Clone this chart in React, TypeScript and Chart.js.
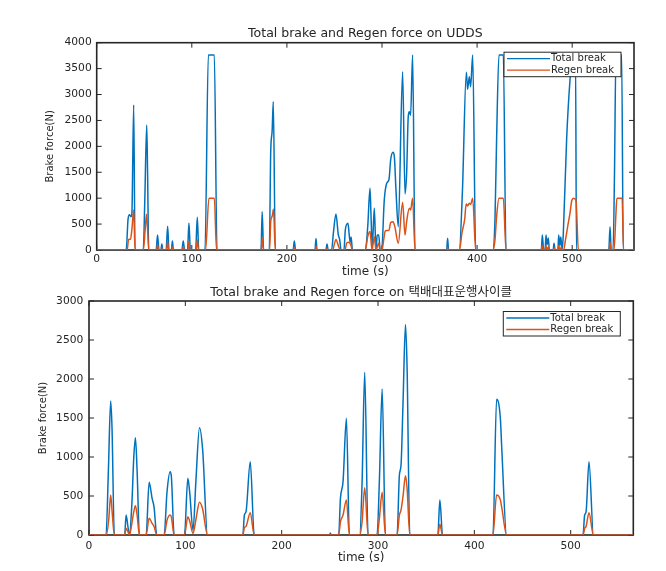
import React, { useEffect, useRef } from 'react';
import { Chart, registerables } from 'chart.js';

Chart.register(...registerables);

// ---------------- DATA ----------------
const xTicks = [0, 100, 200, 300, 400, 500];
const xMax = 565;
const uddsYTicks = [0, 500, 1000, 1500, 2000, 2500, 3000, 3500, 4000];
const deliveryYTicks = [0, 500, 1000, 1500, 2000, 2500, 3000];
const seriesLabels = ['Total break', 'Regen break'];
const uddsTitle = 'Total brake and Regen force on UDDS';
const deliveryTitle = 'Total brake and Regen force on 택배대표운행사이클';
const xTitle = 'time (s)';
const yTitle = 'Brake force(N)';

// [time (s), force (N)]
const uddsTotal: [number, number][] = [
  [0, 0], [31, 0], [33, 600], [34.5, 680], [36, 640], [37, 700], [38.9, 2800], [40.3, 0],
  [49, 0], [50.5, 900], [52.6, 2410], [53.5, 1500], [54.7, 0],
  [62.5, 0], [64, 290], [65.5, 0],
  [67.5, 0], [68.5, 115], [69.5, 0],
  [73, 0], [74.6, 460], [76, 0],
  [78.5, 0], [79.6, 175], [80.7, 0],
  [89.5, 0], [91, 175], [92.5, 0],
  [95.5, 0], [97, 520], [98.5, 0],
  [104, 0], [105.8, 630], [107.3, 0],
  [113.9, 0], [117.4, 3765], [123.7, 3765], [126.5, 0],
  [172.8, 0], [174, 740], [175.5, 0],
  [181.5, 0], [183, 1900], [184.5, 2300], [185.7, 2863], [187.8, 0],
  [206.5, 0], [207.8, 175], [209.2, 0],
  [229.5, 0], [230.6, 220], [231.7, 0],
  [241, 0], [242.2, 115], [243.4, 0],
  [247, 0], [249, 350], [251.6, 695], [254, 300], [255.5, 200], [257, 0],
  [260, 0], [261.5, 400], [264.2, 515], [265.5, 300], [266.5, 150], [267.5, 250], [269, 0],
  [282.5, 0], [285, 450], [287.4, 1190], [288.4, 690], [289.8, 60], [291.9, 805], [293.7, 0],
  [295, 290], [296.5, 290], [298.2, 0], [299.7, 0], [302.4, 965], [304.9, 1285], [307.4, 1365],
  [309.1, 1737], [311.6, 1885], [313, 1800], [314.7, 1160], [317.1, 450], [321.7, 3440],
  [324.2, 1080], [325.9, 1480], [327.6, 2575], [328.7, 2670], [330.1, 2600], [332.2, 3765], [334.7, 0],
  [368, 0], [369, 225], [370, 0],
  [381.3, 0], [384.5, 1095], [388.7, 3430], [390, 3100], [391.8, 3345], [393.2, 3150], [395.4, 3765], [398.5, 0],
  [416.4, 0], [418.8, 580], [420.5, 2120], [423, 3765], [427.6, 3765], [430.4, 0],
  [467.5, 0], [468.6, 290], [470, 0], [471.5, 0], [472.5, 290], [473.5, 100], [474.9, 230], [476, 0],
  [480, 0], [480.9, 130], [482, 0], [485, 0], [485.8, 290], [487, 80], [488, 250], [489.5, 0],
  [490.7, 330], [494.2, 2155], [497.7, 3280], [500, 3700], [502, 3765], [503.5, 3765], [504.5, 0],
  [538.5, 0], [539.8, 450], [541, 0], [543, 0], [544.5, 1500], [546, 3765], [552, 3765], [553.7, 0],
  [565, 0],
];

const uddsRegen: [number, number][] = [
  [0, 0], [32, 0], [33.5, 200], [35.5, 210], [37, 400], [38.9, 770], [40.3, 0],
  [49, 0], [51, 400], [52.4, 690], [53.5, 400], [54.7, 0],
  [63, 0], [64, 100], [65, 0],
  [68, 0], [68.5, 40], [69, 0],
  [73.5, 0], [74.6, 160], [75.7, 0],
  [79, 0], [79.6, 60], [80.3, 0],
  [90, 0], [91, 60], [92, 0],
  [96, 0], [97, 170], [98, 0],
  [104.5, 0], [105.8, 200], [107, 0],
  [114.5, 0], [118, 1000], [123.7, 1000], [126, 0],
  [173, 0], [174, 230], [175.3, 0],
  [181.8, 0], [183, 550], [184.5, 650], [185.9, 785], [187.8, 0],
  [207, 0], [207.8, 50], [208.8, 0],
  [230, 0], [230.6, 70], [231.4, 0],
  [241.5, 0], [242.2, 35], [243, 0],
  [248, 0], [251.6, 205], [254, 90], [256.5, 0],
  [261, 0], [263, 140], [265, 150], [267, 110], [269, 0],
  [282.5, 0], [285, 257], [287.4, 355], [289.5, 0], [291.9, 257], [293.7, 0], [296.5, 130], [298, 0],
  [300, 0], [302, 225], [303.5, 373], [307.4, 380], [309, 527], [311.6, 545], [313.5, 450],
  [317.1, 130], [321.7, 915], [324.2, 290], [325.9, 545], [328.7, 805], [330.1, 770], [332.2, 1000], [334.7, 0],
  [368.5, 0], [369, 50], [369.6, 0],
  [381.5, 0], [384, 320], [387, 600], [388.5, 890], [390, 850], [391.8, 900], [393.2, 880], [395.4, 1000], [398.5, 0],
  [416.8, 0], [418.8, 190], [420.5, 640], [423, 1000], [427.6, 1000], [430.4, 0],
  [467.5, 0], [468.6, 90], [469.6, 0], [471.5, 0], [472.5, 90], [473.5, 0], [474, 0], [474.9, 60], [476, 0],
  [480, 0], [480.9, 40], [482, 0], [485, 0], [485.8, 90], [487, 0], [487.5, 0], [488.5, 60], [489.5, 0],
  [491, 0], [493, 200], [495.5, 480], [497.7, 710], [499.5, 950], [501.5, 1000], [504, 960], [506.5, 0],
  [539, 0], [539.8, 150], [541, 0],
  [544, 0], [546, 700], [547, 1000], [552.5, 1000], [554, 0],
  [565, 0],
];

const deliveryTotal: [number, number][] = [
  [0, 0], [17.7, 0], [20.1, 812], [22.5, 1718], [23.9, 1368], [26.3, 0],
  [37, 0], [38.5, 256], [40.5, 100], [42, 0], [44.5, 400], [46.5, 1000], [48.2, 1248], [50, 800], [52.3, 0],
  [59.3, 0], [62.4, 675], [65.5, 470], [67.5, 360], [70.4, 0],
  [78, 0], [81, 555], [84.2, 812], [85.5, 750], [88.4, 0],
  [99.1, 0], [102.6, 726], [104.5, 550], [108, 60], [111, 700], [114.7, 1376], [118, 1090], [123, 0],
  [159.7, 0], [161.3, 256], [163, 300], [167.4, 940], [171.5, 0],
  [249.8, 0], [250.5, 25], [251.2, 0],
  [259.2, 0], [261, 470], [263.7, 684], [267.2, 1496], [270.3, 0],
  [281, 0], [283.4, 640], [286.2, 2085], [289.7, 0],
  [299, 0], [301.4, 684], [304.3, 1872], [307.7, 0],
  [319.8, 0], [322.2, 770], [323.9, 897], [326, 1710], [328.5, 2700], [330.2, 2137], [333, 0],
  [362.1, 0], [364.2, 449], [367, 0],
  [419.3, 0], [423.1, 1740], [427, 1496], [428.5, 1100], [433.5, 0],
  [512.8, 0], [514.5, 256], [516, 300], [519, 940], [523.6, 0],
  [565, 0],
];

const deliveryRegen: [number, number][] = [
  [0, 0], [18, 0], [20.5, 200], [22.5, 513], [24, 300], [26.3, 0],
  [37, 0], [38.5, 85], [40.5, 40], [42, 0], [44.5, 150], [46.5, 300], [48.2, 376], [50, 250], [52.3, 0],
  [59.3, 0], [62.4, 214], [65.5, 150], [67.5, 110], [70.4, 0],
  [78, 0], [81, 190], [84.2, 256], [85.5, 230], [88.4, 0],
  [99.1, 0], [102.6, 235], [104.5, 180], [108, 20], [111, 200], [114.7, 419], [118, 330], [123, 0],
  [159.7, 0], [161.3, 94], [163, 110], [167.4, 286], [171.5, 0],
  [259.2, 0], [261, 170], [263.7, 256], [267.2, 449], [270.3, 0],
  [281, 0], [283.4, 160], [286.2, 607], [289.7, 0],
  [299, 0], [301.4, 210], [304.3, 547], [307.7, 0],
  [319.8, 0], [322.2, 256], [323.9, 320], [326, 500], [328.5, 760], [330.2, 600], [333, 0],
  [362.1, 0], [364.2, 137], [367, 0],
  [419.3, 0], [423.1, 513], [427, 450], [428.5, 350], [433.5, 0],
  [512.8, 0], [514.5, 85], [516, 110], [519, 286], [523.6, 0],
  [565, 0],
];

// ---------------- STYLE ----------------
const BLUE = '#0072BD';
const ORANGE = '#D95319';
const AX = '#262626';
const SANS = '"DejaVu Sans", "Noto Sans CJK KR", sans-serif';

const framePlugin = {
  id: 'frame',
  beforeDatasetsDraw(chart: any) {
    const { ctx, chartArea: a, scales } = chart;
    const tl = 5;
    ctx.save();
    ctx.strokeStyle = AX;
    ctx.lineWidth = 1;
    ctx.beginPath();
    scales.x.ticks.forEach((t: any) => {
      const p = scales.x.getPixelForValue(t.value);
      ctx.moveTo(p, a.bottom); ctx.lineTo(p, a.bottom - tl);
      ctx.moveTo(p, a.top); ctx.lineTo(p, a.top + tl);
    });
    scales.y.ticks.forEach((t: any) => {
      const p = scales.y.getPixelForValue(t.value);
      ctx.moveTo(a.left, p); ctx.lineTo(a.left + tl, p);
      ctx.moveTo(a.right, p); ctx.lineTo(a.right - tl, p);
    });
    ctx.stroke();
    ctx.lineWidth = 1.6;
    ctx.strokeRect(a.left, a.top, a.right - a.left, a.bottom - a.top);
    ctx.restore();
  },
};

const legendBoxPlugin = {
  id: 'legendBox',
  afterDraw(chart: any, _args: any, opts: any) {
    const { ctx, chartArea: a } = chart;
    const w = 117;
    const h = 24.5;
    const x = a.right - opts.right - w;
    const y = a.top + opts.top;
    ctx.save();
    ctx.fillStyle = '#ffffff';
    ctx.fillRect(x, y, w, h);
    ctx.strokeStyle = AX;
    ctx.lineWidth = 1;
    ctx.strokeRect(x, y, w, h);
    ctx.font = `10px ${SANS}`;
    ctx.textBaseline = 'middle';
    ctx.textAlign = 'left';
    const items = [chart.data.datasets[1], chart.data.datasets[0]];
    items.forEach((ds: any, i: number) => {
      const cy = y + 6.5 + i * 11.5;
      ctx.strokeStyle = ds.borderColor;
      ctx.lineWidth = 1.3;
      ctx.beginPath();
      ctx.moveTo(x + 3, cy);
      ctx.lineTo(x + 46, cy);
      ctx.stroke();
      ctx.fillStyle = AX;
      ctx.fillText(ds.label, x + 47, cy);
    });
    ctx.restore();
  },
};

type PanelCfg = {
  total: [number, number][];
  regen: [number, number][];
  yTicks: number[];
  title: string;
  titlePad: { top: number; bottom: number };
  yAxisWidth: number;
  yTitlePad: number;
  yLabelPad: number;
  xAxisHeight: number;
  xLabelPad: number;
  xTitlePad: number;
  rightPad: number;
  legendTop: number;
};

const plain = (v: any) => String(v);

function buildConfig(p: PanelCfg): any {
  const common = {
    borderWidth: 1.5,
    pointRadius: 0,
    cubicInterpolationMode: 'monotone',
  };
  return {
    type: 'line',
    data: {
      datasets: [
        {
          ...common,
          label: seriesLabels[1],
          data: p.regen.map(([x, y]) => ({ x, y })),
          borderColor: ORANGE,
          order: 0,
        },
        {
          ...common,
          label: seriesLabels[0],
          data: p.total.map(([x, y]) => ({ x, y })),
          borderColor: BLUE,
          order: 1,
        },
      ],
    },
    options: {
      animation: false,
      responsive: false,
      devicePixelRatio: 1,
      layout: { padding: { left: 0, right: p.rightPad, top: 0, bottom: 0 } },
      plugins: {
        legend: { display: false },
        tooltip: { enabled: false },
        title: {
          display: true,
          text: p.title,
          fullSize: false,
          color: AX,
          font: { family: SANS, size: 12.5, weight: 'normal', lineHeight: 1.2 },
          padding: p.titlePad,
        },
        legendBox: { right: 13, top: p.legendTop },
      },
      scales: {
        x: {
          type: 'linear',
          min: 0,
          max: xMax,
          afterBuildTicks: (s: any) => { s.ticks = xTicks.map((v) => ({ value: v })); },
          afterFit: (s: any) => { s.height = p.xAxisHeight; },
          grid: { display: false, drawTicks: false },
          border: { display: false },
          ticks: {
            color: AX,
            font: { family: SANS, size: 10.7 },
            padding: p.xLabelPad,
            maxRotation: 0,
            autoSkip: false,
            callback: plain,
          },
          title: {
            display: true,
            text: xTitle,
            color: AX,
            font: { family: SANS, size: 12, lineHeight: 1.2 },
            padding: { top: 0, bottom: p.xTitlePad },
          },
        },
        y: {
          type: 'linear',
          min: 0,
          max: p.yTicks[p.yTicks.length - 1],
          afterBuildTicks: (s: any) => { s.ticks = p.yTicks.map((v) => ({ value: v })); },
          afterFit: (s: any) => { s.width = p.yAxisWidth; },
          grid: { display: false, drawTicks: false },
          border: { display: false },
          ticks: {
            color: AX,
            font: { family: SANS, size: 10.7 },
            padding: p.yLabelPad,
            callback: plain,
          },
          title: {
            display: true,
            text: yTitle,
            color: AX,
            font: { family: SANS, size: 10, lineHeight: 1.2 },
            padding: { top: p.yTitlePad, bottom: 0 },
          },
        },
      },
    },
    plugins: [framePlugin, legendBoxPlugin],
  };
}

const topPanel: PanelCfg = {
  total: uddsTotal,
  regen: uddsRegen,
  yTicks: uddsYTicks,
  title: uddsTitle,
  titlePad: { top: 26, bottom: 1.7 },
  yAxisWidth: 96.7,
  yTitlePad: 44.7,
  yLabelPad: 5,
  xAxisHeight: 35,
  xLabelPad: 2.6,
  xTitlePad: 5.8,
  rightPad: 32,
  legendTop: 9.5,
};

const bottomPanel: PanelCfg = {
  total: deliveryTotal,
  regen: deliveryRegen,
  yTicks: deliveryYTicks,
  title: deliveryTitle,
  titlePad: { top: 0, bottom: 1 },
  yAxisWidth: 89,
  yTitlePad: 37.3,
  yLabelPad: 5.7,
  xAxisHeight: 36,
  xLabelPad: 4.6,
  xTitlePad: 6.1,
  rightPad: 32.7,
  legendTop: 10.5,
};

function Panel({ cfg, top, height }: { cfg: PanelCfg; top: number; height: number }) {
  const ref = useRef<HTMLCanvasElement | null>(null);
  useEffect(() => {
    if (!ref.current) return;
    const chart = new Chart(ref.current, buildConfig(cfg));
    return () => chart.destroy();
  }, [cfg]);
  return (
    <div style={{ position: 'absolute', left: 0, top, width: 666, height }}>
      <canvas ref={ref} width={666} height={height} style={{ display: 'block' }} />
    </div>
  );
}

export default function App() {
  return (
    <div style={{ position: 'fixed', left: 0, top: 0, width: 666, height: 571, background: '#ffffff' }}>
      <Panel cfg={topPanel} top={0} height={285} />
      <Panel cfg={bottomPanel} top={285} height={286} />
    </div>
  );
}
